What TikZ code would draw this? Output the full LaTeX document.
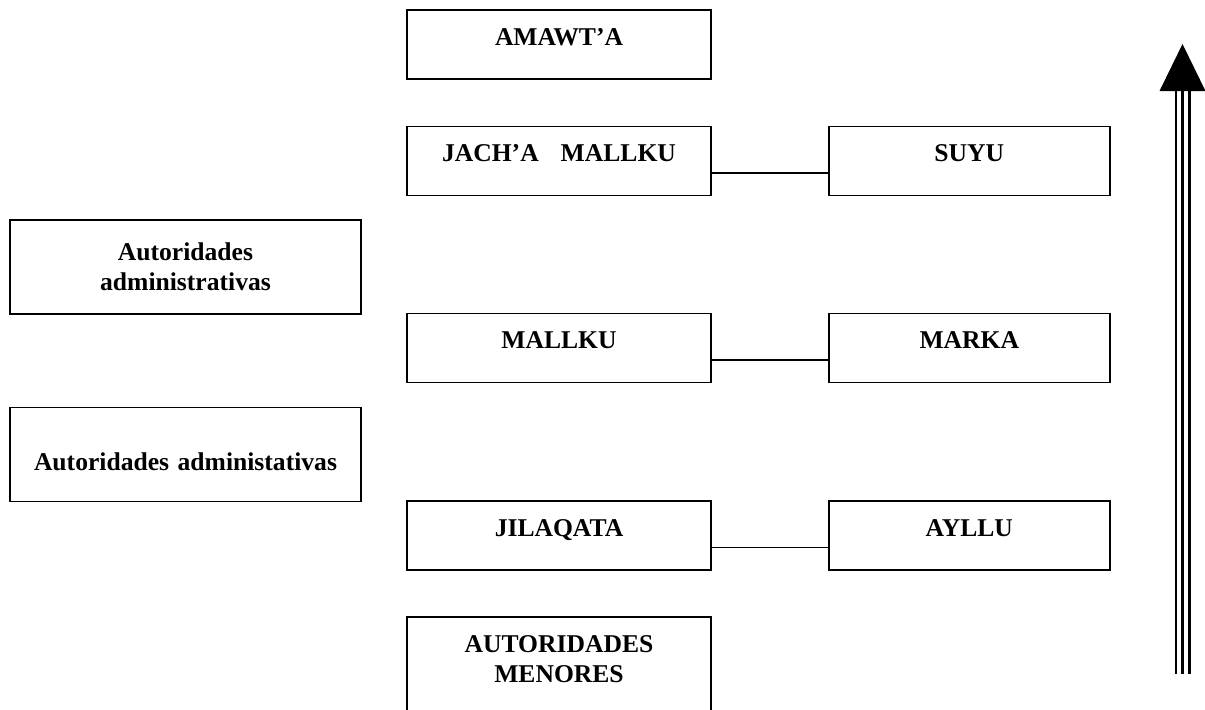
\documentclass[tikz,border=0pt]{standalone}
\usepackage{fontspec}
\setmainfont{Liberation Serif}
\usetikzlibrary{positioning}
\begin{document}
\begin{tikzpicture}[x=0.5pt, y=-0.5pt, line width=0.9pt, font=\fontsize{12.8}{15}\selectfont\bfseries]
        \tikzstyle{caja} = [rectangle, draw=black, inner sep=0pt, align=center,
                            text height=17.5pt, text depth=17pt]
        \tikzstyle{centro} = [caja, minimum width=152pt, text width=152pt]
        \tikzstyle{derecha} = [caja, minimum width=140.5pt, text width=140.5pt]
        \tikzstyle{izquierda} = [caja, minimum width=175.5pt, text width=175.5pt]

        \useasboundingbox (0,0) rectangle (1205,709);

        % Autoridades (columna central)
        \node[centro] (amawta) at (559,44.5) {AMAWT’A};
        \node[centro] (jacha) at (559,161) {JACH’A\hspace{11pt}MALLKU};
        \node[centro] (mallku) at (559,348) {MALLKU};
        \node[centro] (jilaqata) at (559,535.5) {JILAQATA};
        \node[centro, text depth=29.5pt] (menores) at (559,664) {AUTORIDADES\\MENORES};

        % Territorios (columna derecha)
        \node[derecha, right=58pt of jacha] (suyu) {SUYU};
        \node[derecha, right=58pt of mallku] (marka) {MARKA};
        \node[derecha, right=58pt of jilaqata] (ayllu) {AYLLU};

        % Autoridades administrativas (columna izquierda)
        \node[izquierda, text height=20pt, text depth=27pt] (admin1) at (185.5,267) {Autoridades\\administrativas};
        \node[izquierda, text height=31.5pt, text depth=15.5pt] (admin2) at (185.5,454.5) {Autoridades administativas};

        % Lineas de union
        \draw ([yshift=-6pt]jacha.east) -- ([yshift=-6pt]suyu.west);
        \draw ([yshift=-6pt]mallku.east) -- ([yshift=-6pt]marka.west);
        \draw ([yshift=-6pt]jilaqata.east) -- ([yshift=-6pt]ayllu.west);

        % Flecha triple
        \coordinate (base) at (1182.5,674);
        \coordinate (punta) at (1182.5,91);
        \foreach \dx/\grosor in {-3.3pt/1.4pt, 0pt/1.8pt, 3.3pt/1.4pt}
            \draw[line width=\grosor] ([xshift=\dx]base) -- ([xshift=\dx]punta);
        \fill ([xshift=-11.5pt]punta) -- ([xshift=11.5pt]punta) -- ([yshift=23.5pt]punta) -- cycle;
    \end{tikzpicture}
\end{document}
